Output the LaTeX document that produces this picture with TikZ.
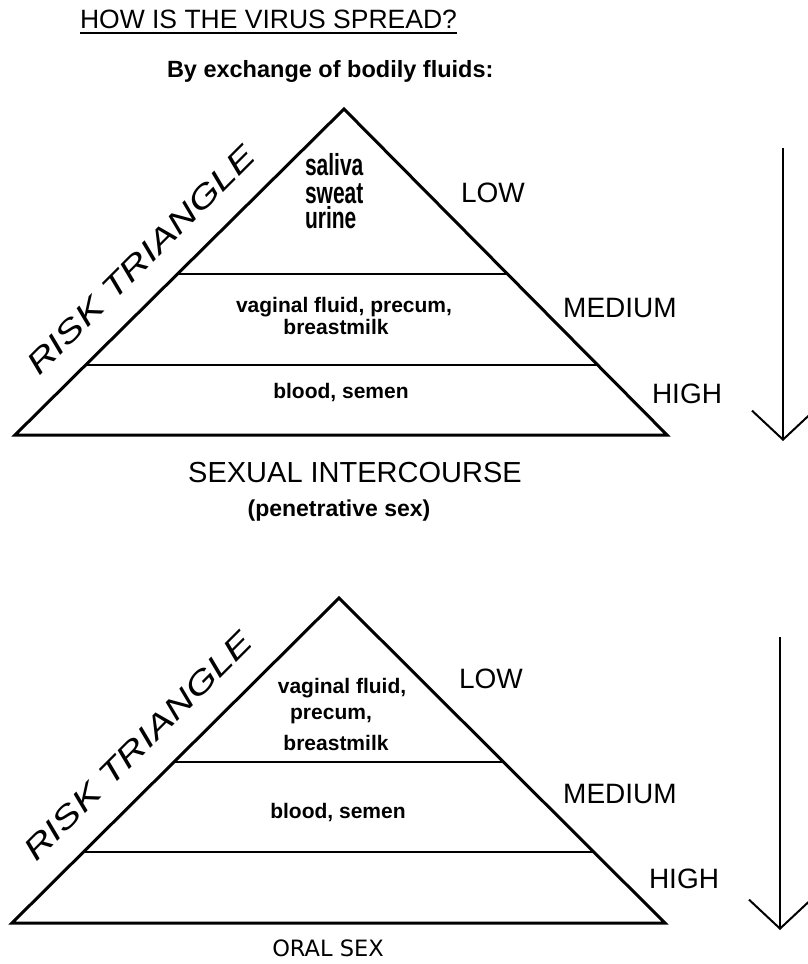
\documentclass[tikz,border=0pt]{standalone}
\usepackage{fontspec}
\setmainfont{Liberation Sans}
\newfontfamily\dvfont{DejaVu Sans}
\usetikzlibrary{calc,arrows.meta}
\tikzset{
  tri/.style={line width=3pt, line join=miter},
  tier/.style={line width=2.5pt},
  txt/.style={anchor=base, inner sep=0pt, outer sep=0pt},
  lvl/.style={txt, font=\fontsize{28}{30}\selectfont},
  fluid/.style={txt, font=\bfseries\fontsize{21}{23}\selectfont},
  risk/.style={inner sep=0pt, rotate=45, font=\itshape\fontsize{31}{33}\selectfont},
  down/.style={line width=2pt, -{Straight Barb[length=29pt,width=62pt,line width=2pt]}},
  underl/.style={line width=2.5pt},
}
\newcommand{\tall}[1]{\scalebox{1}[1.45]{#1}}
\newcommand{\wide}[1]{\scalebox{1.31}[1]{#1}}
\begin{document}
\begin{tikzpicture}[x=1pt,y=-1pt]
\useasboundingbox[fill=white] (0,0) rectangle (807,964);

% title
\node[txt, anchor=base west, font=\fontsize{26.5}{28}\selectfont] (title) at (80,28) {HOW IS THE VIRUS SPREAD?};
\draw[underl] ($(title.base west)+(0,5)$) -- ($(title.base east)+(0,5)$);
\node[txt, anchor=base west, font=\bfseries\fontsize{23.5}{25}\selectfont] (byex) at (167,77) {By exchange of bodily fluids:};

% ---------- triangle 1 ----------
\coordinate (A1) at (344,109);
\coordinate (L1) at (15,435);
\coordinate (R1) at (667,435);
\draw[tri] (A1) -- (R1) -- (L1) -- cycle;
\draw[tier] ($(A1)!0.506!(L1)$) -- ($(A1)!0.506!(R1)$);
\draw[tier] ($(A1)!0.785!(L1)$) -- ($(A1)!0.785!(R1)$);

\node[fluid, anchor=base west] (sal1) at (305,175) {\tall{saliva}};
\node[fluid, anchor=base west] (swe1) at (305,203) {\tall{sweat}};
\node[fluid, anchor=base west] (uri1) at (305,228) {\tall{urine}};
\node[fluid] (vag1) at (344,312) {vaginal fluid, precum,};
\node[fluid] (bre1) at (336,334) {breastmilk};
\node[fluid] (blo1) at (341,398) {blood, semen};

\node[lvl] (low1) at (493,202) {LOW};
\node[lvl] (med1) at (620,317) {MEDIUM};
\node[lvl] (hig1) at (687,403) {HIGH};

\node[risk] (risk1) at (141,260) {\wide{RISK TRIANGLE}};

\coordinate (S1) at (783,148);
\coordinate (E1) at (783,441);
\draw[down] (S1) -- (E1);

\node[txt, font=\fontsize{29}{31}\selectfont] (sex) at (355,482) {SEXUAL INTERCOURSE};
\node[txt, font=\bfseries\fontsize{23}{25}\selectfont] (pen) at (339,516) {(penetrative sex)};

% ---------- triangle 2 ----------
\coordinate (A2) at (339,598);
\coordinate (L2) at (12,923);
\coordinate (R2) at (665,923);
\draw[tri] (A2) -- (R2) -- (L2) -- cycle;
\draw[tier] ($(A2)!0.505!(L2)$) -- ($(A2)!0.505!(R2)$);
\draw[tier] ($(A2)!0.782!(L2)$) -- ($(A2)!0.782!(R2)$);

\node[fluid] (vag2) at (342,693) {vaginal fluid,};
\node[fluid] (pre2) at (331,719) {precum,};
\node[fluid] (bre2) at (336,750) {breastmilk};
\node[fluid] (blo2) at (338,818) {blood, semen};

\node[lvl] (low2) at (491,688) {LOW};
\node[lvl] (med2) at (620,803) {MEDIUM};
\node[lvl] (hig2) at (684,888) {HIGH};

\node[risk] (risk2) at (138,746) {\wide{RISK TRIANGLE}};

\coordinate (S2) at (780,637);
\coordinate (E2) at (780,930);
\draw[down] (S2) -- (E2);

\node[txt, font=\dvfont\fontsize{22.5}{24}\selectfont] (oral) at (328,956) {ORAL SEX};
\end{tikzpicture}
\end{document}
